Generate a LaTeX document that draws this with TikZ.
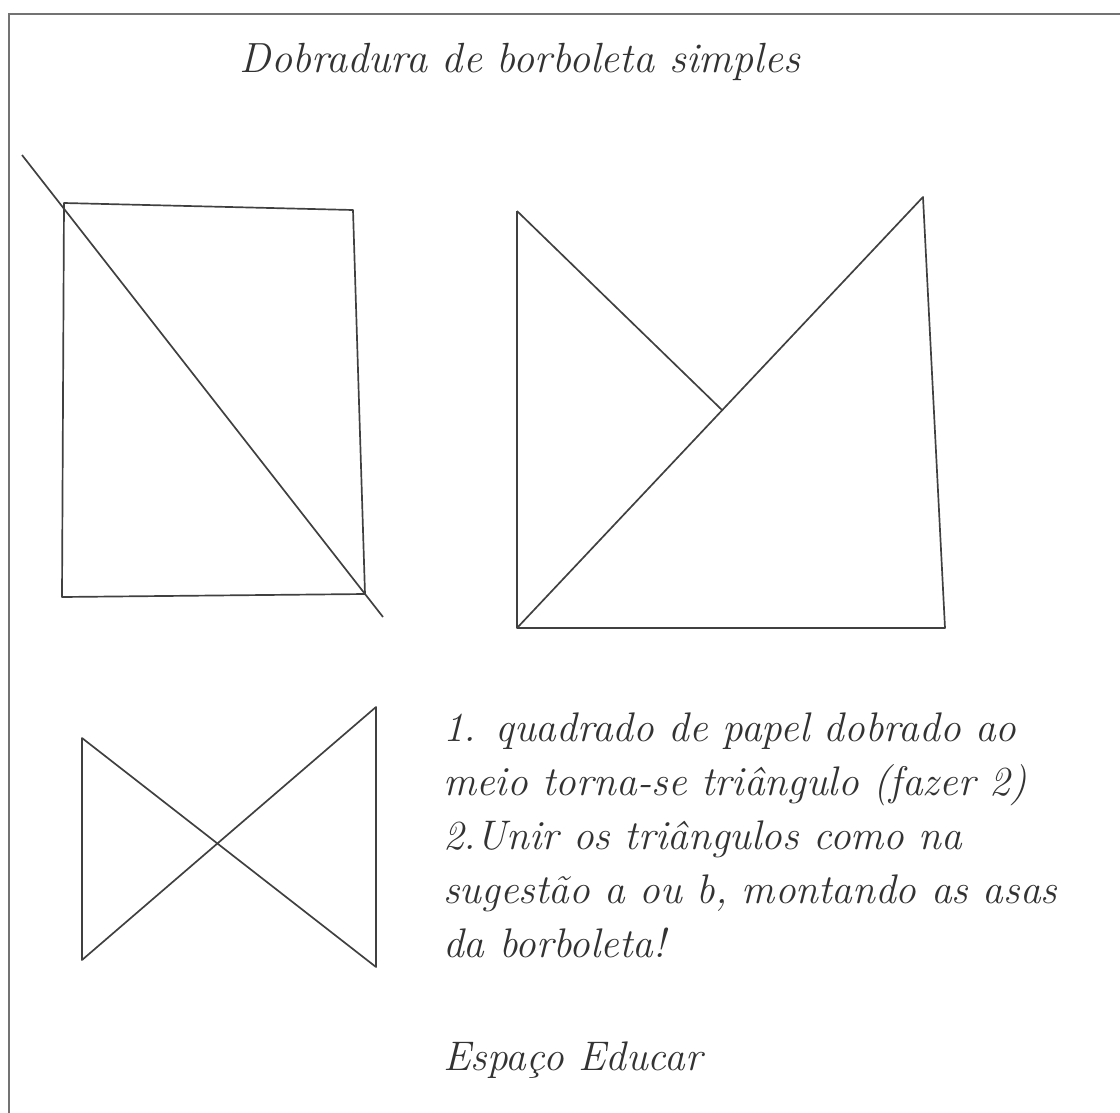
\documentclass[tikz,border=0pt]{standalone}
\usepackage{fontspec}
\begin{document}
\begin{tikzpicture}[
	x=0.025cm, y=-0.025cm,
	frame/.style={ black!55, line width=2pt },
	fold/.style={ black!75, line width=1.2pt, line join=round },
	cursive/.style={ font=\fontsize{29.4}{38.4}\selectfont\itshape, inner sep=0pt, black!80 }
]
\useasboundingbox (0,0) rectangle (1120,1113);

% frame (top and left edges only)
\draw[frame] (9,1113) -- (9,14) -- (1120,14);

\node at (520,72) (title) [cursive,anchor=base,font=\fontsize{30}{36}\selectfont\itshape] {Dobradura de borboleta simples};

% square with its diagonal
\coordinate (q1a) at (64,203);
\coordinate (q1b) at (353,210);
\coordinate (q1c) at (365,594);
\coordinate (q1d) at (62,597);
\coordinate (d1s) at (22,155);
\coordinate (d1e) at (383,617);
\draw[fold] (q1a) -- (q1b) -- (q1c) -- (q1d) -- cycle;
\draw[fold] (d1s) to (d1e);

% two triangles, one over the other
\coordinate (t2a) at (517,211);
\coordinate (t2b) at (517,628);
\coordinate (t2c) at (945,628);
\coordinate (t2d) at (923,197);
\coordinate (t2m) at (722,410);
\draw[fold] (t2a) -- (t2b) -- (t2c) -- (t2d) -- (t2b);
\draw[fold] (t2a) to (t2m);

% butterfly
\coordinate (b3a) at (82,738);
\coordinate (b3b) at (82,960);
\coordinate (b3c) at (376,707);
\coordinate (b3d) at (376,967);
\draw[fold] (b3a) -- (b3b) -- (b3c) -- (b3d) -- cycle;

\node at (443,957) (steps) [cursive,anchor=base west,align=left] {1. quadrado de papel dobrado ao\\
meio torna-se triângulo (fazer 2)\\
2.Unir os triângulos como na\\
sugestão a ou b, montando as asas\\
da borboleta!};

\node at (443,1070) (credit) [cursive,anchor=base west] {Espaço Educar};

\end{tikzpicture}
\end{document}
